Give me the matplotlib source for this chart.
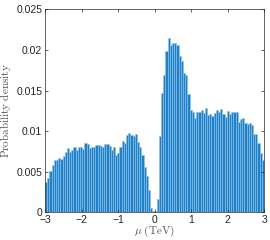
import numpy as np
import matplotlib
matplotlib.use("Agg")
import matplotlib.pyplot as plt

plt.rcParams['font.family'] = ['Liberation Sans', 'DejaVu Sans']
plt.rcParams['mathtext.fontset'] = 'cm'

# 100 bins on [-3, 3], probability per bin
bin_edges = np.linspace(-3, 3, 101)
prob = [
    0.0037, 0.0043, 0.0051, 0.0058, 0.0064, 0.0065, 0.0067, 0.0066, 0.0069, 0.0074,
    0.0079, 0.0074, 0.0077, 0.0080, 0.0077, 0.0081, 0.0080, 0.0078, 0.0085, 0.0084,
    0.0079, 0.0080, 0.0080, 0.0083, 0.0083, 0.0082, 0.0081, 0.0084, 0.0084, 0.0082,
    0.0077, 0.0081, 0.0071, 0.0073, 0.0080, 0.0088, 0.0086, 0.0095, 0.0098, 0.0095,
    0.0094, 0.0096, 0.0087, 0.0080, 0.0071, 0.0056, 0.0045, 0.0028, 0.0005, 0.0002,
    0.0002, 0.0017, 0.0094, 0.0147, 0.0169, 0.0199, 0.0215, 0.0206, 0.0208, 0.0209,
    0.0206, 0.0192, 0.0187, 0.0172, 0.0169, 0.0146, 0.0126, 0.0124, 0.0116, 0.0124,
    0.0124, 0.0126, 0.0123, 0.0128, 0.0120, 0.0121, 0.0119, 0.0123, 0.0126, 0.0124,
    0.0127, 0.0121, 0.0118, 0.0125, 0.0121, 0.0124, 0.0124, 0.0124, 0.0111, 0.0115,
    0.0116, 0.0110, 0.0109, 0.0110, 0.0108, 0.0097, 0.0096, 0.0085, 0.0073, 0.0065,
]
xticks = [-3, -2, -1, 0, 1, 2, 3]
yticks = [0, 0.005, 0.01, 0.015, 0.02, 0.025]
ytick_labels = ['0', '0.005', '0.01', '0.015', '0.02', '0.025']

fig = plt.figure(figsize=(2.7, 2.4), dpi=100)
ax = fig.add_axes([0.1667, 0.1146, 0.8113, 0.8466])

ax.hist(bin_edges[:-1], bins=bin_edges, weights=prob,
        facecolor='#1f82c8', edgecolor='#8fc3e8', linewidth=0.4)

ax.set_xlim(-3, 3)
ax.set_ylim(0, 0.025)
ax.set_xticks(xticks)
ax.set_xticklabels(['\u2212' + str(-t) if t < 0 else str(t) for t in xticks])
ax.set_yticks(yticks)
ax.set_yticklabels(ytick_labels)
ax.tick_params(direction='in', length=2.5, width=0.5, labelsize=7.5,
               colors='#262626', top=True, right=True, pad=2)
for s in ax.spines.values():
    s.set_color('#262626')
    s.set_linewidth(0.5)

ax.set_xlabel(r'$\mu\ \mathrm{(TeV)}$', fontsize=8, color='#555555', labelpad=-1)
ax.set_ylabel(r'$\mathrm{Probability\ density}$', fontsize=8, color='#555555', labelpad=2)

fig.savefig('out.png', dpi=100)
